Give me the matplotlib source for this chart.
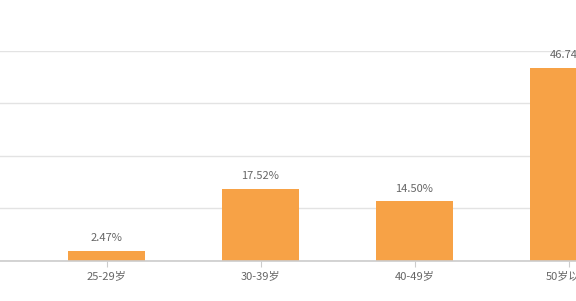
import matplotlib
matplotlib.use('Agg')
import matplotlib.pyplot as plt

plt.rcParams['font.family'] = ['Noto Sans CJK SC', 'DejaVu Sans']

# ─── Data ───
categories = ['25-29岁', '30-39岁', '40-49岁', '50岁以上']
values = [2.47, 17.52, 14.50, 46.74]
labels = ['2.47%', '17.52%', '14.50%', '46.74%']

bar_color = '#F7A246'
text_color = '#666666'
y_top = 50.86

fig = plt.figure(figsize=(5.76, 3.01), dpi=100)
ax = fig.add_axes([0, 40 / 301, 1, (261 - 50.7) / 301])

x = list(range(len(categories)))
ax.bar(x, values, width=0.5, color=bar_color, zorder=3)

for xi, v, lab in zip(x, values, labels):
    ax.text(xi, v + 1.8, lab, ha='center', va='bottom', fontsize=8,
            color=text_color, zorder=4)

ax.set_xlim(-106.5 / 154, (576 - 106.5) / 154)
ax.set_ylim(0, y_top)
ax.set_yticks([y_top * k / 4 for k in range(5)])
ax.yaxis.grid(True, color='#e3e3e3', linewidth=1, zorder=0)
ax.tick_params(axis='y', left=False, labelleft=False)

ax.set_xticks(x)
ax.set_xticklabels(categories, fontsize=8, color=text_color)
ax.tick_params(axis='x', length=4, color='#cccccc', pad=3)

for side in ['top', 'left', 'right']:
    ax.spines[side].set_visible(False)
ax.spines['bottom'].set_color('#cccccc')
ax.spines['bottom'].set_linewidth(1.2)
ax.spines['bottom'].set_zorder(5)

fig.savefig('out.png', dpi=100)
plt.close(fig)
